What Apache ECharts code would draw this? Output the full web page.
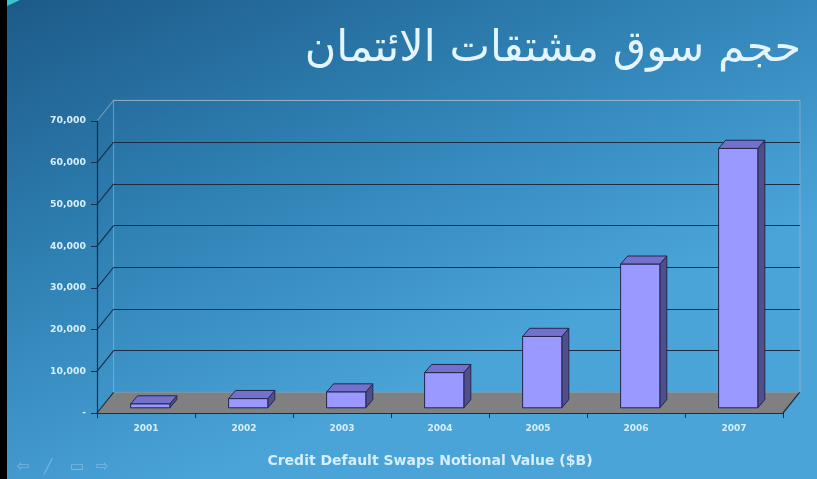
<!DOCTYPE html>
<html>
<head>
<meta charset="utf-8">
<script src="https://cdn.jsdelivr.net/npm/echarts@6/dist/echarts.min.js"></script>
<style>html,body{margin:0;padding:0;}#c{width:817px;height:479px;}</style>
</head>
<body>
<div id="c"></div>
<script>
// ---- data ----
const titleText = 'حجم سوق مشتقات الائتمان';
const xAxisTitle = 'Credit Default Swaps Notional Value ($B)';
const years = ['2001', '2002', '2003', '2004', '2005', '2006', '2007'];
const notional = [919, 2192, 3779, 8422, 17096, 34423, 62173];
const yTicks = [0, 10000, 20000, 30000, 40000, 50000, 60000, 70000];
const yTickLabels = ['-', '10,000', '20,000', '30,000', '40,000', '50,000', '60,000', '70,000'];

// ---- styling constants ----
const DX = 16.6, DY = -20.6;          // wall depth
const FOX = 4.2, FOY = -5.2;          // bar front-plane offset
const BX = 7, BY = -8.2;              // bar depth
const BAR_W = 0.40;
const DARK = '#1b2c44';
const LABEL = '#d6efff';

const chart = echarts.init(document.getElementById('c'));

const option = {
  animation: false,
  backgroundColor: {
    type: 'linear', x: 0, y: 0, x2: 0.25, y2: 1,
    colorStops: [{offset: 0, color: '#1c5a88'}, {offset: 0.5, color: '#2f80b3'}, {offset: 1, color: '#4aa4d8'}]
  },
  grid: [
    {left: 97, right: 34, top: 121, bottom: 66, show: false},
    {left: 97 + DX, right: 17, top: 121 + DY, bottom: 66 - DY, show: true,
     borderColor: 'rgba(175,190,205,0.55)', borderWidth: 1, backgroundColor: 'transparent'}
  ],
  xAxis: [
    {type: 'category', gridIndex: 0, data: years, boundaryGap: true, z: 10,
     axisLine: {lineStyle: {color: DARK, width: 1.2}},
     axisTick: {show: true, length: 5, lineStyle: {color: DARK}},
     axisLabel: {color: LABEL, fontFamily: 'DejaVu Sans', fontWeight: 'bold', fontSize: 9, margin: 11}},
    {type: 'category', gridIndex: 1, data: years, show: false}
  ],
  yAxis: [
    {type: 'value', gridIndex: 0, min: 0, max: 70000, interval: 10000, z: 10,
     axisLine: {show: true, lineStyle: {color: DARK, width: 1.2}},
     axisTick: {show: true, length: 6, lineStyle: {color: DARK}},
     splitLine: {show: false},
     axisLabel: {color: LABEL, fontFamily: 'DejaVu Sans', fontWeight: 'bold', fontSize: 9.3, margin: 11,
       formatter: v => yTickLabels[yTicks.indexOf(v)]}},
    {type: 'value', gridIndex: 1, min: 0, max: 70000, interval: 10000,
     axisLine: {show: false}, axisTick: {show: false}, axisLabel: {show: false},
     splitLine: {show: true, lineStyle: {width: 1.2,
       color: ['rgba(0,0,0,0)', DARK, DARK, DARK, DARK, DARK, DARK, 'rgba(175,190,205,0.55)']}}}
  ],
  graphic: [
    {type: 'rect', shape: {x: 0, y: 0, width: 7, height: 479}, style: {fill: '#000'}},
    {type: 'polygon', shape: {points: [[7, 0], [20, 0], [7, 6]]}, style: {fill: '#3ec3cf'}},
    {type: 'text', style: {x: 801, y: 50, text: titleText, fontFamily: 'DejaVu Sans', fontSize: 43,
      fill: '#e4f5ff', align: 'right', verticalAlign: 'middle'}},
    {type: 'text', style: {x: 430, y: 461, text: xAxisTitle, fontFamily: 'DejaVu Sans', fontWeight: 'bold',
      fontSize: 14, fill: LABEL, align: 'center', verticalAlign: 'middle'}},
    {type: 'text', left: 17, top: 460, style: {text: '⇦', fontFamily: 'DejaVu Sans', fontSize: 15, fill: 'rgba(150,200,230,0.65)'}},
    {type: 'text', left: 44, top: 460, style: {text: '╱', fontFamily: 'DejaVu Sans', fontSize: 14, fill: 'rgba(150,200,230,0.65)'}},
    {type: 'text', left: 70, top: 460, style: {text: '▭', fontFamily: 'DejaVu Sans', fontSize: 15, fill: 'rgba(150,200,230,0.65)'}},
    {type: 'text', left: 96, top: 460, style: {text: '⇨', fontFamily: 'DejaVu Sans', fontSize: 15, fill: 'rgba(150,200,230,0.65)'}}
  ],
  series: [
    { // floor
      type: 'custom', xAxisIndex: 0, yAxisIndex: 0, z: 1, silent: true,
      data: [[0, 0]],
      renderItem: function (params, api) {
        const cs = params.coordSys;
        const yb = cs.y + cs.height, xl = cs.x, xr = cs.x + cs.width;
        return {type: 'group', children: [
          {type: 'polygon', shape: {points: [[xl, yb], [xr, yb], [xr + DX, yb + DY], [xl + DX, yb + DY]]},
           style: {fill: '#808080'}},
          {type: 'line', shape: {x1: xr, y1: yb, x2: xr + DX, y2: yb + DY}, style: {stroke: DARK, lineWidth: 1.2}}
        ]};
      }
    },
    { // left wall diagonals
      type: 'custom', xAxisIndex: 0, yAxisIndex: 0, z: 2, silent: true,
      data: yTicks.map(v => [0, v]),
      renderItem: function (params, api) {
        const cs = params.coordSys;
        const v = api.value(1);
        const p = api.coord([0, v]);
        const last = v === yTicks[yTicks.length - 1];
        return {type: 'line', shape: {x1: cs.x, y1: p[1], x2: cs.x + DX, y2: p[1] + DY},
          style: {stroke: last ? 'rgba(175,190,205,0.55)' : DARK, lineWidth: 1.1}};
      }
    },
    { // 3D bars
      type: 'custom', xAxisIndex: 0, yAxisIndex: 0, z: 5,
      data: notional.map((v, i) => [i, v]),
      renderItem: function (params, api) {
        const idx = api.value(0), v = api.value(1);
        const base = api.coord([idx, 0]);
        const top = api.coord([idx, v]);
        const w = api.size([1, 0])[0] * BAR_W;
        const x0 = base[0] - w / 2 + FOX, x1 = x0 + w;
        const yb = base[1] + FOY, yt = top[1] + FOY;
        const stroke = '#25254d';
        return {type: 'group', children: [
          {type: 'polygon', shape: {points: [[x1, yt], [x1 + BX, yt + BY], [x1 + BX, yb + BY], [x1, yb]]},
           style: {fill: '#4f4f8c', stroke: stroke, lineWidth: 1}},
          {type: 'polygon', shape: {points: [[x0, yt], [x1, yt], [x1 + BX, yt + BY], [x0 + BX, yt + BY]]},
           style: {fill: '#7272cc', stroke: stroke, lineWidth: 1}},
          {type: 'rect', shape: {x: x0, y: yt, width: w, height: yb - yt},
           style: {fill: '#9999ff', stroke: stroke, lineWidth: 1}}
        ]};
      }
    }
  ]
};
chart.setOption(option);
</script>
</body>
</html>
